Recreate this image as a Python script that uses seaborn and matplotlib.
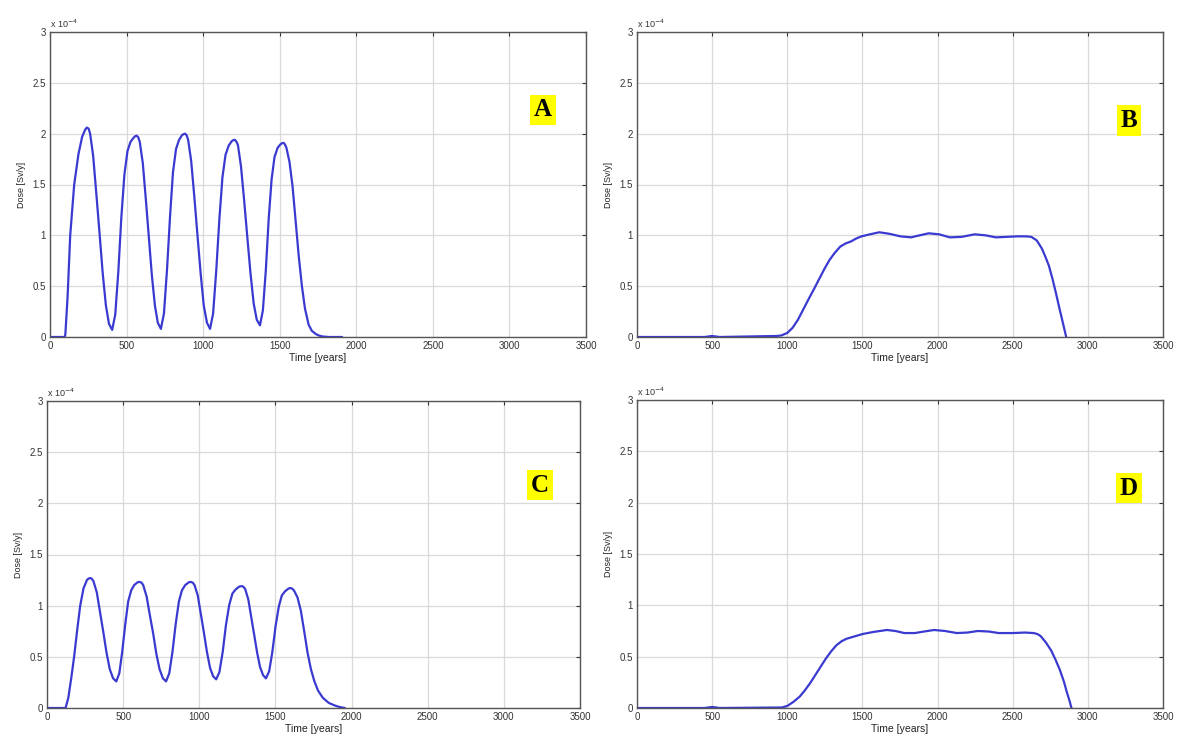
import matplotlib
matplotlib.use("Agg")
import matplotlib.pyplot as plt
import seaborn as sns
import pandas as pd
from matplotlib.ticker import FuncFormatter

# ---------------- data (dose in units of 1e-4 Sv/y) ----------------
time_a = [0, 50, 95, 100, 115, 132, 158, 186, 210, 230, 241, 252,
          262, 282, 303, 323, 344, 365, 385, 406,
          426, 446, 466, 486, 506, 526, 546, 556, 566, 576,
          586, 606, 626, 645, 665, 685, 704, 724,
          744, 764, 784, 803, 823, 843, 862, 872, 882, 892,
          902, 922, 943, 963, 984, 1004, 1025, 1045,
          1065, 1085, 1106, 1126, 1146, 1166, 1186, 1196, 1206, 1216,
          1227, 1247, 1268, 1288, 1309, 1330, 1350, 1371,
          1390, 1409, 1428, 1447, 1466, 1486, 1505, 1514, 1524, 1534,
          1544, 1564, 1584, 1604, 1624, 1645, 1665, 1689, 1710, 1735, 1755, 1780, 1820, 1908]
dose_a = [0, 0, 0, 0.02, 0.4, 1.0, 1.5, 1.8, 1.97, 2.04, 2.06, 2.05,
          2.0, 1.78, 1.40, 1.03, 0.63, 0.31, 0.13, 0.07,
          0.22, 0.64, 1.18, 1.6, 1.83, 1.92, 1.96, 1.975, 1.98, 1.965,
          1.92, 1.71, 1.35, 0.99, 0.61, 0.31, 0.14, 0.08,
          0.23, 0.66, 1.19, 1.62, 1.85, 1.94, 1.985, 1.995, 2.0, 1.985,
          1.94, 1.73, 1.37, 1.0, 0.62, 0.31, 0.14, 0.08,
          0.23, 0.64, 1.16, 1.57, 1.79, 1.88, 1.925, 1.935, 1.94, 1.925,
          1.89, 1.68, 1.34, 0.99, 0.63, 0.33, 0.17, 0.115,
          0.26, 0.65, 1.16, 1.55, 1.77, 1.86, 1.895, 1.905, 1.91, 1.895,
          1.86, 1.72, 1.48, 1.14, 0.8, 0.5, 0.28, 0.12, 0.06, 0.03, 0.015, 0.005, 0, 0]

time_b = [0, 450, 500, 550, 929, 960, 1000, 1035, 1071, 1106, 1141, 1177, 1212,
          1247, 1282, 1317, 1353, 1388, 1424, 1460, 1494, 1550, 1612, 1680,
          1753, 1824, 1880, 1941, 2010, 2082, 2160, 2247, 2320, 2388, 2460,
          2529, 2588, 2624, 2660, 2694, 2720, 2741, 2765, 2788, 2808, 2824,
          2840, 2856]
dose_b = [0, 0, 0.01, 0, 0.01, 0.015, 0.04, 0.09, 0.17, 0.27, 0.37, 0.47, 0.57,
          0.67, 0.76, 0.83, 0.89, 0.92, 0.94, 0.97, 0.99, 1.01, 1.03, 1.015,
          0.99, 0.98, 1.0, 1.02, 1.01, 0.98, 0.985, 1.01, 1.0, 0.98, 0.985,
          0.99, 0.99, 0.985, 0.95, 0.87, 0.78, 0.70, 0.57, 0.43, 0.30, 0.20,
          0.10, 0]

time_c = [0, 122, 140, 160, 178, 198, 218, 240, 262, 273, 284, 295,
          305, 327, 348, 370, 391, 412, 434, 455,
          475, 494, 514, 533, 553, 572, 592, 601, 611, 621,
          632, 654, 675, 697, 718, 739, 761, 782,
          803, 824, 845, 866, 886, 907, 928, 938, 949, 959,
          969, 990, 1010, 1030, 1050, 1071, 1091, 1111,
          1132, 1154, 1175, 1197, 1218, 1240, 1261, 1272, 1283, 1293,
          1302, 1322, 1341, 1360, 1380, 1399, 1419, 1438,
          1459, 1480, 1501, 1522, 1542, 1563, 1584, 1595, 1605, 1615,
          1625, 1645, 1667, 1690, 1711, 1733, 1756, 1780, 1811, 1850, 1889, 1920, 1956]
dose_c = [0, 0, 0.1, 0.3, 0.5, 0.76, 1.0, 1.17, 1.25, 1.265, 1.27, 1.262,
          1.24, 1.13, 0.94, 0.74, 0.54, 0.38, 0.29, 0.26,
          0.34, 0.55, 0.82, 1.04, 1.15, 1.20, 1.225, 1.232, 1.23, 1.225,
          1.20, 1.09, 0.91, 0.73, 0.53, 0.38, 0.29, 0.26,
          0.34, 0.55, 0.82, 1.04, 1.15, 1.20, 1.225, 1.232, 1.23, 1.222,
          1.20, 1.10, 0.92, 0.74, 0.55, 0.39, 0.31, 0.28,
          0.35, 0.55, 0.81, 1.01, 1.12, 1.16, 1.185, 1.19, 1.19, 1.18,
          1.16, 1.06, 0.89, 0.72, 0.54, 0.40, 0.32, 0.29,
          0.36, 0.55, 0.80, 0.99, 1.10, 1.14, 1.165, 1.172, 1.17, 1.16,
          1.14, 1.08, 0.95, 0.74, 0.54, 0.38, 0.26, 0.17, 0.1, 0.05, 0.025, 0.01, 0]

time_d = [0, 450, 500, 550, 965, 1000, 1041, 1082, 1116, 1151, 1186, 1221, 1256,
          1291, 1326, 1361, 1395, 1430, 1465, 1500, 1570, 1663, 1720, 1779,
          1849, 1910, 1977, 2050, 2128, 2200, 2268, 2340, 2407, 2500, 2580,
          2640, 2665, 2686, 2720, 2756, 2785, 2814, 2840, 2861, 2878, 2891]
dose_d = [0, 0, 0.01, 0, 0.005, 0.02, 0.06, 0.11, 0.17, 0.24, 0.32, 0.40, 0.48,
          0.55, 0.61, 0.65, 0.675, 0.69, 0.705, 0.72, 0.74, 0.76, 0.75, 0.73,
          0.73, 0.745, 0.76, 0.75, 0.73, 0.735, 0.75, 0.745, 0.73, 0.73, 0.735,
          0.73, 0.72, 0.70, 0.64, 0.56, 0.47, 0.37, 0.26, 0.15, 0.07, 0]

panel_labels = ["A", "B", "C", "D"]
x_ticks = [0, 500, 1000, 1500, 2000, 2500, 3000, 3500]
y_ticks = [0, 0.5, 1, 1.5, 2, 2.5, 3]
x_label = "Time [years]"
y_label = "Dose [Sv/y]"
exp_label = r"x 10$^{-4}$"

# ---------------- style ----------------
sns.set_style("white")
plt.rcParams["font.family"] = ["Liberation Sans", "DejaVu Sans"]

W, H = 1177, 738
fig = plt.figure(figsize=(W / 100, H / 100), dpi=100)

# axes boxes in pixels: left, top, right, bottom
boxes = [(50, 32, 586, 337), (637, 32, 1163, 337),
         (47, 401, 580, 708), (637, 400, 1163, 708)]
label_pos = [(0.92, 0.745), (0.935, 0.71), (0.925, 0.726), (0.935, 0.714)]
series = [(time_a, dose_a), (time_b, dose_b), (time_c, dose_c), (time_d, dose_d)]

line_color = "#3a3ad0"
fmt = FuncFormatter(lambda v, p: "%g" % v)

for (l, t, r, b), (tx, dy), lab, (lx, ly) in zip(boxes, series, panel_labels, label_pos):
    ax = fig.add_axes([l / W, 1 - b / H, (r - l) / W, (b - t) / H])
    df = pd.DataFrame({"time": tx, "dose": dy})
    sns.lineplot(data=df, x="time", y="dose", ax=ax, color=line_color,
                 linewidth=1.6, sort=False, estimator=None,
                 solid_joinstyle="round", solid_capstyle="round")
    ax.set_xlim(0, 3500)
    ax.set_ylim(0, 3)
    ax.set_xticks(x_ticks)
    ax.set_yticks(y_ticks)
    ax.xaxis.set_major_formatter(fmt)
    ax.yaxis.set_major_formatter(fmt)
    ax.grid(True, color="#d9d9d9", linewidth=0.9)
    ax.set_axisbelow(True)
    for s in ax.spines.values():
        s.set_visible(True)
        s.set_color("#555555")
        s.set_linewidth(1.0)
    ax.tick_params(direction="in", length=3, width=0.8, colors="#333333",
                   labelsize=7, top=True, right=True, pad=3)
    ax.set_xlabel(x_label, fontsize=7.5, labelpad=1, color="#222222")
    ax.set_ylabel(y_label, fontsize=6.5, labelpad=5, color="#222222")
    ax.text(0.0, 1.005, exp_label, transform=ax.transAxes, fontsize=6.5,
            ha="left", va="bottom", color="#333333")
    ax.text(lx, ly, lab, transform=ax.transAxes, fontsize=18, fontweight="bold",
            family=["Liberation Serif", "DejaVu Serif"], ha="center", va="center",
            color="black",
            bbox=dict(boxstyle="square,pad=0.15", facecolor="#ffff00", edgecolor="none"))

fig.savefig("out.png", dpi=100)
